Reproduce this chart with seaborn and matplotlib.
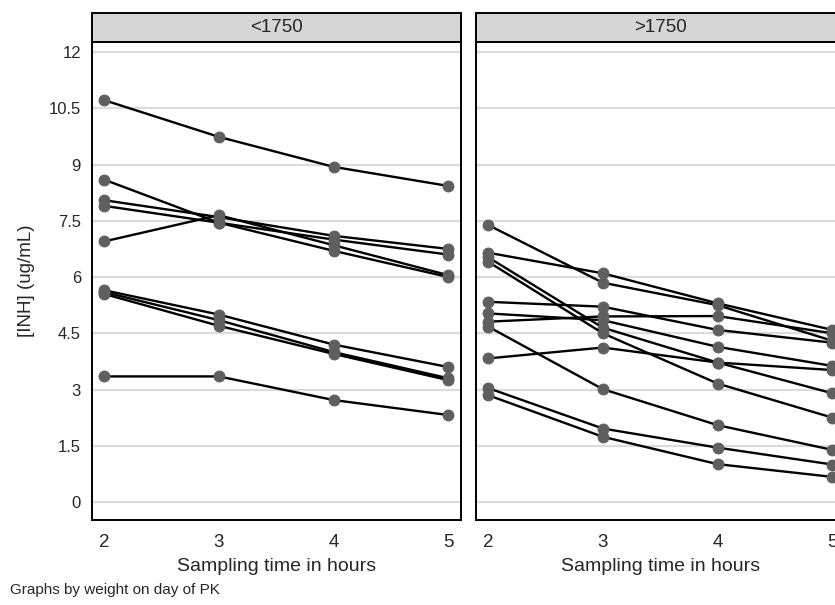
import numpy as np
import pandas as pd
import seaborn as sns
import matplotlib
matplotlib.use("Agg")
import matplotlib.pyplot as plt

# ---------------- data ----------------
times = [2, 3, 4, 5]
panels = ["<1750", ">1750"]
ytick_vals = [0, 1.5, 3, 4.5, 6, 7.5, 9, 10.5, 12]
ytick_labels = ["0", "1.5", "3", "4.5", "6", "7.5", "9", "10.5", "12"]

conc_lt1750 = [
    [10.72, 9.74, 8.94, 8.43],
    [8.60, 7.45, 6.70, 6.00],
    [8.05, 7.60, 7.10, 6.75],
    [7.90, 7.45, 7.00, 6.60],
    [6.95, 7.65, 6.85, 6.05],
    [5.65, 5.00, 4.20, 3.60],
    [5.60, 4.85, 4.00, 3.30],
    [5.55, 4.70, 3.95, 3.25],
    [3.35, 3.35, 2.72, 2.32],
]
conc_gt1750 = [
    [7.39, 5.85, 5.25, 4.30],
    [6.65, 6.10, 5.30, 4.59],
    [5.34, 5.21, 4.59, 4.25],
    [4.81, 4.95, 4.96, 4.50],
    [5.03, 4.85, 4.14, 3.63],
    [6.53, 4.65, 3.72, 2.90],
    [6.41, 4.50, 3.16, 2.25],
    [3.83, 4.12, 3.72, 3.52],
    [4.68, 3.01, 2.05, 1.39],
    [3.04, 1.96, 1.45, 1.00],
    [2.85, 1.74, 1.01, 0.67],
]

rows = []
for panel, series in zip(panels, [conc_lt1750, conc_gt1750]):
    for i, vals in enumerate(series):
        for t, v in zip(times, vals):
            rows.append({"panel": panel, "id": f"{panel}_{i}", "time": t, "conc": v})
df = pd.DataFrame(rows)

# ---------------- style ----------------
sns.set_theme(style="white")
plt.rcParams["font.family"] = ["Liberation Sans", "DejaVu Sans"]

W, H = 835, 605
fig = plt.figure(figsize=(W / 100, H / 100), dpi=100)

def fx(px):
    return px / W

def fy(py):
    return 1 - py / H

plot_top, plot_bot = 42, 520
strip_top = 13
lefts = [92, 476]
width_px = 369

for k, (panel, left) in enumerate(zip(panels, lefts)):
    ax = fig.add_axes([fx(left), fy(plot_bot), width_px / W, (plot_bot - plot_top) / H])
    sub = df[df["panel"] == panel]
    for y in ytick_vals:
        ax.axhline(y, color="#dcdcdc", lw=1.6, zorder=0)
    sns.lineplot(data=sub, x="time", y="conc", units="id", estimator=None,
                 color="black", lw=1.7, marker="o", markersize=7.8,
                 markerfacecolor="#5f5f5f", markeredgecolor="#5f5f5f",
                 legend=False, ax=ax)
    ax.set_xlim(1.895, 5.11)
    ax.set_ylim(-0.48, 12.27)
    ax.set_xticks(times)
    ax.set_xticklabels([str(t) for t in times], fontsize=13.5)
    ax.set_yticks(ytick_vals)
    if k == 0:
        ax.set_yticklabels(ytick_labels, fontsize=12)
        ax.tick_params(axis="y", direction="out", length=6, width=1.0, color="black", pad=2)
        ax.set_ylabel("[INH] (ug/mL)", fontsize=13.5, labelpad=10)
    else:
        ax.set_yticklabels([])
        ax.tick_params(axis="y", length=0)
        ax.set_ylabel("")
    ax.tick_params(axis="x", direction="out", length=6, width=1.0, color="black", pad=4)
    ax.set_xlabel("Sampling time in hours", fontsize=14, labelpad=5)
    for s in ax.spines.values():
        s.set_color("black")
        s.set_linewidth(1.4)
    ax.grid(False)

    strip = fig.add_axes([fx(left), fy(plot_top), width_px / W, (plot_top - strip_top) / H])
    strip.set_facecolor("#d6d6d6")
    strip.set_xticks([])
    strip.set_yticks([])
    for s in strip.spines.values():
        s.set_color("black")
        s.set_linewidth(1.4)
    strip.text(0.5, 0.5, panel, ha="center", va="center", fontsize=13.5,
               transform=strip.transAxes)

fig.text(fx(10), fy(590), "Graphs by weight on day of PK", fontsize=11, ha="left", va="center")

fig.savefig("out.png", dpi=100)
